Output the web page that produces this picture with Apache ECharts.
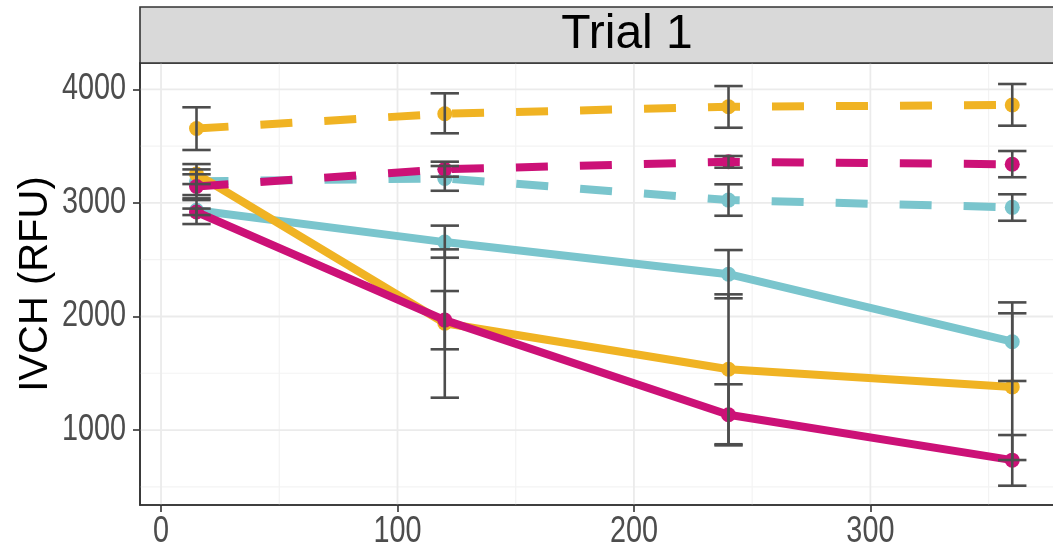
<!DOCTYPE html>
<html>
<head>
<meta charset="utf-8">
<script src="https://cdn.jsdelivr.net/npm/echarts@6/dist/echarts.min.js"></script>
<style>
html,body{margin:0;padding:0;background:#fff;}
#chart{width:1053px;height:550px;}
</style>
</head>
<body>
<div id="chart"></div>
<script>
// ---- data ----
const facetTitle = 'Trial 1';
const yTitle = 'IVCH (RFU)';
const timePoints = [15, 120, 240, 360];

const yellowSolid   = [3255, 1940, 1535, 1380];
const yellowSolidLo = [3166, 1285, 875, 736];
const yellowSolidHi = [3342, 2591, 2195, 2028];

const tealSolid   = [2935, 2655, 2372, 1778];
const tealSolidLo = [2814, 2518, 2160, 1432];
const tealSolidHi = [3040, 2800, 2585, 2124];

const magentaSolid   = [2920, 1968, 1135, 735];
const magentaSolidLo = [2893, 1711, 865, 510];
const magentaSolidHi = [2950, 2224, 1403, 956];

const yellowDashed   = [3655, 3785, 3847, 3862];
const yellowDashedLo = [3466, 3613, 3662, 3680];
const yellowDashedHi = [3842, 3965, 4029, 4047];

const magentaDashed   = [3145, 3296, 3362, 3340];
const magentaDashedLo = [3025, 3231, 3310, 3226];
const magentaDashedHi = [3252, 3363, 3413, 3457];

const tealDashed   = [3190, 3216, 3025, 2961];
const tealDashedLo = [3069, 3107, 2887, 2843];
const tealDashedHi = [3295, 3325, 3164, 3076];

const xMajorBreaks = [0, 100, 200, 300];
const xMinorBreaks = [50, 150, 250, 350];
const yMajorBreaks = [1000, 2000, 3000, 4000];
const yMinorBreaks = [500, 1500, 2500, 3500];

// ---- styles ----
const X_MIN = -8.9, X_MAX = 384, Y_MIN = 340, Y_MAX = 4232;
const C_YELLOW = '#F0B323', C_TEAL = '#7AC5CD', C_MAGENTA = '#CC1177';
const ERR_COLOR = '#4D4D4D';
const CAP_HALF = 6;
const MAIN_FONT = "'Liberation Sans', Arial, sans-serif";

const chart = echarts.init(document.getElementById('chart'), null, {renderer: 'canvas'});

function zip(xs, ys) { return xs.map((x, i) => [x, ys[i]]); }

function gridSeries(values, dir, color, width) {
  return {
    type: 'custom', silent: true, z: 0,
    data: values.map(v => [v]),
    renderItem: function (params, api) {
      const cs = params.coordSys;
      const v = api.value(0);
      let shape;
      if (dir === 'y') {
        const p = api.coord([0, v]);
        shape = {x1: cs.x, y1: p[1], x2: cs.x + cs.width, y2: p[1]};
      } else {
        const p = api.coord([v, 1000]);
        shape = {x1: p[0], y1: cs.y, x2: p[0], y2: cs.y + cs.height};
      }
      return {type: 'line', shape: shape, style: {stroke: color, lineWidth: width}};
    }
  };
}

function tickLabelSeries(values, dir) {
  return {
    type: 'custom', silent: true, z: 30, clip: false,
    data: values.map(v => [v]),
    renderItem: function (params, api) {
      const v = api.value(0);
      if (dir === 'x') {
        const p = api.coord([v, Y_MIN]);
        return {type: 'text', x: p[0], y: p[1] + 27, scaleX: 0.8,
          style: {text: String(v), fill: '#4D4D4D', font: "36px " + MAIN_FONT,
                  align: 'center', verticalAlign: 'middle'}};
      }
      const p = api.coord([X_MIN, v]);
      return {type: 'text', x: p[0] - 14, y: p[1], scaleX: 0.8,
        style: {text: String(v), fill: '#4D4D4D', font: "36px " + MAIN_FONT,
                align: 'right', verticalAlign: 'middle'}};
    }
  };
}

function lineSeries(name, vals, color, dashed, z) {
  return {
    name: name, type: 'line', z: z,
    data: zip(timePoints, vals),
    symbol: 'circle', symbolSize: 15, showSymbol: true,
    lineStyle: {color: color, width: 8, type: dashed ? [32, 32] : 'solid', cap: 'butt'},
    itemStyle: {color: color, borderWidth: 0},
    emphasis: {disabled: true},
    silent: true
  };
}

function errSeries(lo, hi) {
  return {
    type: 'custom', silent: true, z: 20,
    data: timePoints.map((x, i) => [x, lo[i], hi[i]]),
    renderItem: function (params, api) {
      const x = api.value(0), l = api.value(1), h = api.value(2);
      const pl = api.coord([x, l]), ph = api.coord([x, h]);
      const a = api.coord([x - CAP_HALF, l]), b = api.coord([x + CAP_HALF, l]);
      const st = {stroke: ERR_COLOR, lineWidth: 2.6};
      return {type: 'group', children: [
        {type: 'line', shape: {x1: pl[0], y1: pl[1], x2: ph[0], y2: ph[1]}, style: st},
        {type: 'line', shape: {x1: a[0], y1: pl[1], x2: b[0], y2: pl[1]}, style: st},
        {type: 'line', shape: {x1: a[0], y1: ph[1], x2: b[0], y2: ph[1]}, style: st}
      ]};
    }
  };
}

const option = {
  animation: false,
  backgroundColor: '#ffffff',
  grid: {left: 140, top: 63, width: 929, height: 442, show: true, containLabel: false,
         outerBoundsMode: 'none',
         backgroundColor: '#ffffff', borderColor: '#333333', borderWidth: 1.6},
  xAxis: {
    type: 'value', min: X_MIN, max: X_MAX,
    axisLine: {show: true, onZero: false, lineStyle: {color: '#333333', width: 1.6}},
    axisTick: {show: true, length: 7, customValues: xMajorBreaks, lineStyle: {color: '#333333', width: 1.6}},
    axisLabel: {show: false},
    splitLine: {show: false}
  },
  yAxis: {
    type: 'value', min: Y_MIN, max: Y_MAX,
    name: yTitle, nameLocation: 'middle', nameGap: 84,
    nameTextStyle: {color: '#000000', fontSize: 40, fontFamily: MAIN_FONT},
    axisLine: {show: true, onZero: false, lineStyle: {color: '#333333', width: 1.6}},
    axisTick: {show: true, length: 7, customValues: yMajorBreaks, lineStyle: {color: '#333333', width: 1.6}},
    axisLabel: {show: false},
    splitLine: {show: false}
  },
  graphic: [
    {type: 'rect', z: 100, shape: {x: 140, y: 7, width: 929, height: 56},
     style: {fill: '#D9D9D9', stroke: '#333333', lineWidth: 1.6}},
    {type: 'text', z: 101, x: 627, y: 35,
     style: {text: facetTitle, fill: '#000000', fontSize: 48, fontFamily: MAIN_FONT,
             align: 'center', verticalAlign: 'middle'}}
  ],
  series: [
    gridSeries(yMinorBreaks, 'y', '#F3F3F3', 1.2),
    gridSeries(xMinorBreaks, 'x', '#F3F3F3', 1.2),
    gridSeries(yMajorBreaks, 'y', '#EBEBEB', 1.8),
    gridSeries(xMajorBreaks, 'x', '#EBEBEB', 1.8),
    lineSeries('teal solid', tealSolid, C_TEAL, false, 3),
    lineSeries('yellow solid', yellowSolid, C_YELLOW, false, 4),
    lineSeries('magenta solid', magentaSolid, C_MAGENTA, false, 5),
    lineSeries('teal dashed', tealDashed, C_TEAL, true, 3),
    lineSeries('yellow dashed', yellowDashed, C_YELLOW, true, 4),
    lineSeries('magenta dashed', magentaDashed, C_MAGENTA, true, 5),
    errSeries(tealSolidLo, tealSolidHi),
    errSeries(yellowSolidLo, yellowSolidHi),
    errSeries(magentaSolidLo, magentaSolidHi),
    errSeries(tealDashedLo, tealDashedHi),
    errSeries(yellowDashedLo, yellowDashedHi),
    errSeries(magentaDashedLo, magentaDashedHi),
    tickLabelSeries(xMajorBreaks, 'x'),
    tickLabelSeries(yMajorBreaks, 'y')
  ]
};
chart.setOption(option);
</script>
</body>
</html>
